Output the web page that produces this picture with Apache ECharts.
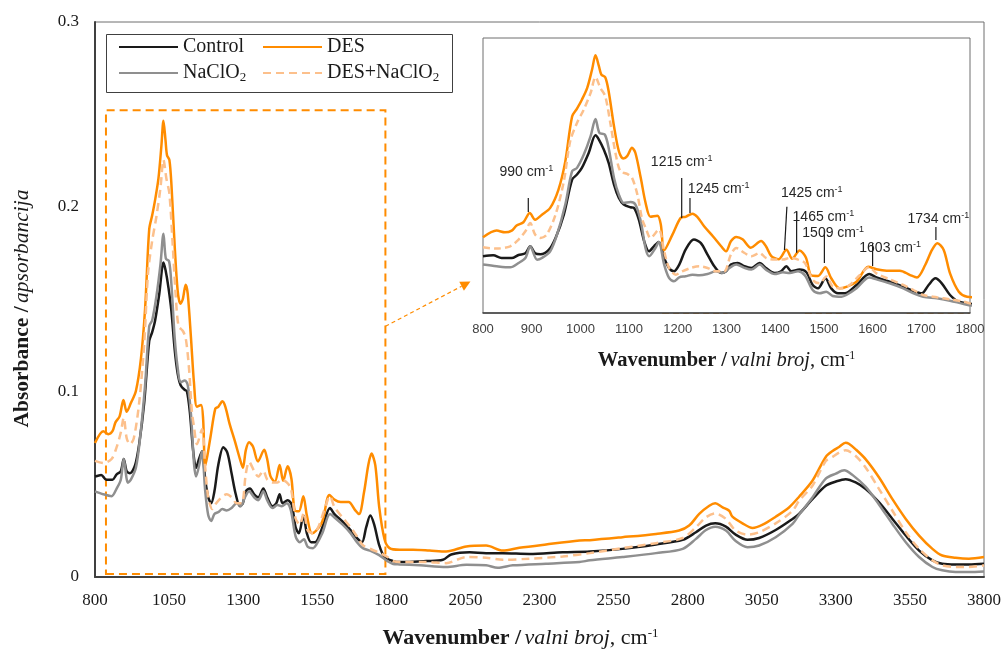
<!DOCTYPE html>
<html><head><meta charset="utf-8">
<script src="https://cdn.jsdelivr.net/npm/echarts@6/dist/echarts.min.js"></script>
<style>html,body{margin:0;padding:0;background:#fff}#c{width:1004px;height:654px}</style>
</head><body><div id="c"></div>
<script>
// ---- data: [wavenumber (cm-1), absorbance] ----
const control = [[800,0.0543],[821,0.0552],[838,0.0526],[859,0.0526],[873,0.0555],[887,0.0571],[897,0.0638],[907,0.0571],[918,0.0561],[935,0.0603],[949,0.0718],[966,0.0941],[983,0.1276],[993,0.1324],[1003,0.1388],[1017,0.1531],[1031,0.1700],[1038,0.1659],[1048,0.1563],[1058,0.1435],[1069,0.1228],[1079,0.1100],[1089,0.1037],[1103,0.1011],[1110,0.1005],[1120,0.0893],[1131,0.0686],[1141,0.0590],[1151,0.0638],[1161,0.0680],[1172,0.0527],[1182,0.0431],[1192,0.0399],[1203,0.0463],[1216,0.0606],[1233,0.0702],[1247,0.0670],[1261,0.0559],[1275,0.0447],[1289,0.0383],[1299,0.0399],[1309,0.0463],[1323,0.0479],[1337,0.0447],[1351,0.0431],[1368,0.0479],[1381,0.0431],[1399,0.0383],[1412,0.0399],[1423,0.0447],[1433,0.0399],[1450,0.0415],[1464,0.0390],[1477,0.0268],[1488,0.0236],[1503,0.0332],[1515,0.0236],[1529,0.0188],[1543,0.0188],[1567,0.0268],[1593,0.0373],[1608,0.0340],[1635,0.0300],[1663,0.0252],[1684,0.0210],[1701,0.0188],[1715,0.0268],[1729,0.0332],[1742,0.0284],[1759,0.0172],[1777,0.0108],[1806,0.0086],[1828,0.0081],[1851,0.0081],[1918,0.0086],[1974,0.0093],[2002,0.0122],[2064,0.0134],[2120,0.0129],[2176,0.0129],[2266,0.0125],[2378,0.0134],[2470,0.0138],[2580,0.0152],[2693,0.0176],[2783,0.0201],[2828,0.0242],[2862,0.0278],[2893,0.0290],[2929,0.0272],[2962,0.0229],[3002,0.0201],[3041,0.0211],[3097,0.0254],[3154,0.0314],[3176,0.0341],[3221,0.0421],[3266,0.0493],[3300,0.0516],[3333,0.0529],[3367,0.0511],[3401,0.0475],[3446,0.0403],[3491,0.0314],[3536,0.0224],[3581,0.0143],[3626,0.0090],[3659,0.0072],[3704,0.0068],[3749,0.0068],[3800,0.0072]];
const naclo2 = [[800,0.0463],[828,0.0447],[856,0.0437],[873,0.0478],[887,0.0526],[897,0.0638],[911,0.0510],[921,0.0526],[938,0.0590],[952,0.0750],[969,0.1037],[983,0.1356],[993,0.1388],[1007,0.1515],[1021,0.1691],[1031,0.1856],[1039,0.1722],[1050,0.1707],[1058,0.1579],[1069,0.1292],[1079,0.1132],[1089,0.1053],[1103,0.1062],[1113,0.1037],[1124,0.0877],[1134,0.0614],[1141,0.0543],[1154,0.0622],[1161,0.0680],[1172,0.0463],[1182,0.0335],[1192,0.0303],[1203,0.0341],[1216,0.0351],[1230,0.0367],[1244,0.0360],[1261,0.0373],[1278,0.0399],[1292,0.0383],[1306,0.0431],[1320,0.0463],[1337,0.0431],[1351,0.0415],[1368,0.0463],[1381,0.0415],[1399,0.0373],[1416,0.0389],[1430,0.0383],[1447,0.0399],[1461,0.0360],[1477,0.0220],[1491,0.0188],[1505,0.0204],[1518,0.0163],[1536,0.0156],[1546,0.0172],[1567,0.0236],[1593,0.0340],[1608,0.0322],[1635,0.0284],[1663,0.0236],[1684,0.0188],[1704,0.0156],[1732,0.0140],[1759,0.0118],[1787,0.0086],[1806,0.0070],[1828,0.0068],[1896,0.0063],[1985,0.0054],[2053,0.0066],[2120,0.0063],[2159,0.0050],[2210,0.0063],[2322,0.0072],[2435,0.0081],[2470,0.0090],[2580,0.0108],[2693,0.0129],[2783,0.0152],[2828,0.0206],[2862,0.0254],[2893,0.0272],[2929,0.0251],[2962,0.0194],[3002,0.0161],[3041,0.0170],[3097,0.0215],[3154,0.0287],[3176,0.0337],[3221,0.0430],[3266,0.0532],[3300,0.0559],[3328,0.0577],[3356,0.0552],[3401,0.0487],[3446,0.0391],[3491,0.0287],[3536,0.0188],[3581,0.0108],[3626,0.0054],[3659,0.0036],[3704,0.0027],[3749,0.0027],[3800,0.0030]];
const des = [[800,0.0724],[828,0.0788],[845,0.0772],[859,0.0788],[869,0.0836],[883,0.0868],[896,0.0957],[907,0.0893],[921,0.0940],[938,0.1005],[955,0.1180],[969,0.1450],[983,0.1880],[993,0.1955],[1003,0.2040],[1014,0.2153],[1024,0.2329],[1031,0.2466],[1038,0.2360],[1043,0.2280],[1051,0.2255],[1058,0.2120],[1069,0.1786],[1079,0.1547],[1088,0.1477],[1096,0.1500],[1106,0.1580],[1113,0.1530],[1124,0.1290],[1134,0.1050],[1144,0.0920],[1158,0.0930],[1165,0.0850],[1172,0.0600],[1189,0.0750],[1206,0.0910],[1216,0.0920],[1230,0.0950],[1240,0.0920],[1254,0.0829],[1272,0.0734],[1289,0.0638],[1299,0.0590],[1309,0.0686],[1320,0.0728],[1333,0.0705],[1350,0.0625],[1371,0.0688],[1381,0.0638],[1392,0.0545],[1407,0.0515],[1423,0.0605],[1435,0.0520],[1450,0.0598],[1463,0.0530],[1474,0.0360],[1488,0.0355],[1503,0.0437],[1515,0.0332],[1532,0.0236],[1546,0.0250],[1567,0.0300],[1591,0.0443],[1608,0.0418],[1629,0.0405],[1656,0.0405],[1677,0.0363],[1691,0.0340],[1708,0.0459],[1722,0.0603],[1733,0.0667],[1746,0.0603],[1759,0.0379],[1777,0.0204],[1794,0.0156],[1828,0.0147],[1873,0.0147],[1929,0.0143],[1985,0.0138],[2053,0.0165],[2120,0.0170],[2176,0.0143],[2232,0.0158],[2322,0.0176],[2435,0.0197],[2470,0.0199],[2580,0.0215],[2693,0.0233],[2771,0.0251],[2805,0.0278],[2839,0.0341],[2873,0.0385],[2893,0.0398],[2918,0.0376],[2940,0.0358],[2951,0.0326],[2985,0.0290],[3019,0.0265],[3053,0.0283],[3097,0.0326],[3142,0.0376],[3176,0.0434],[3221,0.0520],[3266,0.0649],[3289,0.0681],[3311,0.0703],[3333,0.0726],[3344,0.0720],[3367,0.0690],[3401,0.0636],[3446,0.0538],[3491,0.0421],[3536,0.0314],[3581,0.0224],[3626,0.0152],[3659,0.0116],[3704,0.0104],[3749,0.0099],[3800,0.0108]];
const desNaclo2 = [[800,0.0628],[828,0.0616],[856,0.0638],[873,0.0702],[887,0.0781],[897,0.0861],[907,0.0750],[918,0.0718],[931,0.0750],[949,0.0941],[966,0.1260],[979,0.1643],[993,0.1818],[1007,0.1946],[1021,0.2105],[1031,0.2255],[1041,0.2153],[1051,0.2073],[1062,0.1802],[1072,0.1531],[1082,0.1356],[1096,0.1331],[1106,0.1292],[1117,0.1132],[1127,0.0893],[1134,0.0814],[1144,0.0718],[1161,0.0798],[1172,0.0590],[1182,0.0431],[1196,0.0367],[1209,0.0399],[1227,0.0431],[1244,0.0447],[1261,0.0431],[1278,0.0399],[1295,0.0399],[1309,0.0559],[1320,0.0622],[1337,0.0574],[1351,0.0543],[1368,0.0574],[1381,0.0527],[1399,0.0511],[1416,0.0511],[1430,0.0527],[1447,0.0511],[1461,0.0479],[1477,0.0316],[1491,0.0284],[1505,0.0348],[1518,0.0252],[1536,0.0236],[1553,0.0268],[1574,0.0363],[1593,0.0437],[1608,0.0379],[1635,0.0322],[1663,0.0268],[1684,0.0220],[1704,0.0172],[1732,0.0150],[1759,0.0131],[1787,0.0108],[1806,0.0086],[1828,0.0081],[1918,0.0081],[1985,0.0075],[2053,0.0108],[2120,0.0104],[2176,0.0093],[2266,0.0099],[2378,0.0111],[2470,0.0129],[2580,0.0156],[2693,0.0183],[2783,0.0211],[2828,0.0269],[2862,0.0323],[2893,0.0344],[2929,0.0314],[2962,0.0251],[3002,0.0229],[3041,0.0242],[3097,0.0290],[3154,0.0358],[3176,0.0412],[3221,0.0493],[3266,0.0627],[3289,0.0649],[3311,0.0672],[3333,0.0685],[3367,0.0654],[3401,0.0591],[3446,0.0475],[3491,0.0358],[3536,0.0242],[3581,0.0152],[3626,0.0090],[3659,0.0063],[3704,0.0054],[3749,0.0054],[3800,0.0063]];

const seriesNames = ['Control', 'NaClO2', 'DES', 'DES+NaClO2'];
const mainXTicks = [800, 1050, 1300, 1550, 1800, 2050, 2300, 2550, 2800, 3050, 3300, 3550, 3800];
const insetXTicks = [800, 900, 1000, 1100, 1200, 1300, 1400, 1500, 1600, 1700, 1800];
const yTicks = [0, 0.1, 0.2, 0.3];
// highlighted regions
const mainZoomBox = [[837, 0.0016], [1780, 0.2523]];
const insetBoxes = [[[1170, 0], [1300, 0.0979]], [[1463, 0], [1545, 0.0481]], [[1672, 0], [1797, 0.0724]]];
// peak annotations: label, label centre [wn, abs], leader line [[wn, abs],[wn, abs]]
const peakLabels = [
  { t: '990', at: [889, 0.1344], line: [[893, 0.1100], [893, 0.0967]] },
  { t: '1215', at: [1208, 0.1445], line: [[1208, 0.1292], [1208, 0.0909]] },
  { t: '1245', at: [1284, 0.1187], line: [[1225, 0.1100], [1225, 0.0957]] },
  { t: '1425', at: [1475, 0.1144], line: [[1424, 0.1017], [1419, 0.0603]] },
  { t: '1465', at: [1499, 0.0914], line: [[1444, 0.0969], [1444, 0.0577]] },
  { t: '1509', at: [1519, 0.0761], line: [[1501, 0.0794], [1501, 0.0478]] },
  { t: '1603', at: [1636, 0.0622], line: [[1600, 0.0667], [1600, 0.0450]] },
  { t: '1734', at: [1735, 0.0900], line: [[1730, 0.0823], [1730, 0.0699]] }
];
const arrowFromTo = [[1780, 0.1355], [2067, 0.1597]];

const colors = ['#1a1a1a', '#8f8f8f', '#ff8c00', '#fcc08c'];
const dataSets = [control, naclo2, des, desNaclo2];
const X0 = 800;
const serif = 'Liberation Serif';
const sans = 'Liberation Sans';

const series = [];
dataSets.forEach((d, i) => {
  const ls = { color: colors[i], width: 2.5, type: i === 3 ? [8, 5] : 'solid' };
  const s = {
    name: seriesNames[i], type: 'line', xAxisIndex: 0, yAxisIndex: 0,
    data: d.map(p => [p[0] - X0, p[1]]), showSymbol: false, symbol: 'none',
    smooth: 0.3, lineStyle: ls, itemStyle: { color: colors[i] }, z: 3 + i
  };
  if (i === 2) {
    s.markArea = {
      silent: true,
      itemStyle: { color: 'rgba(0,0,0,0)', borderColor: '#ff8c00', borderWidth: 2, borderType: [8, 5] },
      data: [[{ coord: [mainZoomBox[0][0] - X0, mainZoomBox[0][1]] }, { coord: [mainZoomBox[1][0] - X0, mainZoomBox[1][1]] }]]
    };
  }
  series.push(s);
});
dataSets.forEach((d, i) => {
  const s = {
    name: seriesNames[i], type: 'line', xAxisIndex: 1, yAxisIndex: 1,
    data: d.filter(p => p[0] <= 1830), showSymbol: false, symbol: 'none', clip: true,
    smooth: 0.3, lineStyle: { color: colors[i], width: 2.5, type: i === 3 ? [7, 4] : 'solid' },
    itemStyle: { color: colors[i] }, z: 13 + i
  };
  if (i === 2) {
    s.markArea = {
      silent: true,
      itemStyle: { color: 'rgba(0,0,0,0)', borderColor: '#ff8c00', borderWidth: 2, borderType: [6, 4] },
      data: insetBoxes.map(b => [{ coord: b[0] }, { coord: b[1] }])
    };
  }
  series.push(s);
});

function titleRich(fs) {
  return {
    b: { fontFamily: serif, fontSize: fs, fontWeight: 'bold', color: '#1a1a1a' },
    i: { fontFamily: serif, fontSize: fs, fontStyle: 'italic', color: '#1a1a1a' },
    n: { fontFamily: serif, fontSize: fs, color: '#1a1a1a' },
    sup: { fontFamily: serif, fontSize: Math.round(fs * 0.6), lineHeight: Math.round(fs * 0.5), verticalAlign: 'top', color: '#1a1a1a' }
  };
}

const legendText = {
  fontFamily: serif, fontSize: 20, color: '#1a1a1a', lineHeight: 22,
  rich: { sub: { fontFamily: serif, fontSize: 13, lineHeight: 12, verticalAlign: 'bottom', color: '#1a1a1a' } }
};
const legendFmt = n => n.replace('ClO2', 'ClO{sub|2}');
const legendCommon = {
  orient: 'vertical', top: 36, padding: 0, itemWidth: 59, itemHeight: 14, itemGap: 4,
  textStyle: legendText, formatter: legendFmt, selectedMode: false,
  itemStyle: { opacity: 0, borderWidth: 0 }
};

const chart = echarts.init(document.getElementById('c'), null, { renderer: 'canvas' });
chart.setOption({
  animation: false,
  backgroundColor: '#fff',
  legend: [
    Object.assign({ data: ['Control', 'NaClO2'], left: 118 }, legendCommon),
    Object.assign({ data: ['DES', 'DES+NaClO2'], left: 262 }, legendCommon)
  ],
  grid: [
    { left: 95, right: 19, top: 22, bottom: 74, show: true, borderColor: '#6e6e6e', borderWidth: 1, backgroundColor: 'rgba(0,0,0,0)' },
    { left: 483, right: 34, top: 38, bottom: 341, show: true, borderColor: '#6e6e6e', borderWidth: 1, backgroundColor: '#fff', z: 10 }
  ],
  xAxis: [
    {
      type: 'value', gridIndex: 0, min: 0, max: 3000, interval: 250,
      axisLine: { lineStyle: { color: '#404040', width: 2 } }, axisTick: { show: false }, splitLine: { show: false },
      axisLabel: { fontFamily: serif, fontSize: 17, color: '#1a1a1a', margin: 15, formatter: v => String(v + X0) },
      name: '{b|Wavenumber /} {i|valni broj}{n|, cm}{sup|-1}', nameLocation: 'middle', nameGap: 50,
      nameTextStyle: { rich: titleRich(22), padding: [0, 38, 0, 0] }
    },
    {
      type: 'value', gridIndex: 1, min: 800, max: 1800, interval: 100, z: 10,
      axisLine: { lineStyle: { color: '#404040', width: 1.5 } }, axisTick: { show: false }, splitLine: { show: false },
      axisLabel: { fontFamily: sans, fontSize: 13, color: '#404040', margin: 10, formatter: v => String(v) },
      name: '{b|Wavenumber /} {i|valni broj}{n|, cm}{sup|-1}', nameLocation: 'middle', nameGap: 37,
      nameTextStyle: { rich: titleRich(20.5) }
    }
  ],
  yAxis: [
    {
      type: 'value', gridIndex: 0, min: 0, max: 0.3, interval: 0.1,
      axisLine: { show: true, lineStyle: { color: '#404040', width: 2 } }, axisTick: { show: false }, splitLine: { show: false },
      axisLabel: { fontFamily: serif, fontSize: 17, color: '#1a1a1a', margin: 16, formatter: v => (Math.round(v * 10) / 10).toString() },
      name: '{b|Absorbance /} {i|apsorbancija}', nameLocation: 'middle', nameGap: 62,
      nameTextStyle: { rich: titleRich(21.5), padding: [0, 18, 0, 0] }
    },
    {
      type: 'value', gridIndex: 1, min: 0, max: 0.263, show: true,
      axisLine: { show: false }, axisTick: { show: false }, axisLabel: { show: false }, splitLine: { show: false }
    }
  ],
  series: series
});

// decorations placed through the axes' own scales
const toMain = p => chart.convertToPixel({ xAxisIndex: 0, yAxisIndex: 0 }, [p[0] - X0, p[1]]);
const toInset = p => chart.convertToPixel({ xAxisIndex: 1, yAxisIndex: 1 }, p);
const graphics = [];
// legend frame
graphics.push({ type: 'rect', shape: { x: 106.5, y: 34.5, width: 346, height: 58 }, style: { fill: 'rgba(0,0,0,0)', stroke: '#404040', lineWidth: 1 }, z: 50 });
// arrow from main box to inset
const a0 = toMain(arrowFromTo[0]), a1 = toMain(arrowFromTo[1]);
const dx = a1[0] - a0[0], dy = a1[1] - a0[1], L = Math.hypot(dx, dy), ux = dx / L, uy = dy / L;
const hb = [a1[0] - ux * 10, a1[1] - uy * 10];
graphics.push({ type: 'line', shape: { x1: a0[0], y1: a0[1], x2: hb[0], y2: hb[1] }, style: { stroke: '#ff8c00', lineWidth: 1.2, lineDash: [4, 3] }, z: 50 });
graphics.push({ type: 'polygon', shape: { points: [a1, [hb[0] - uy * 5, hb[1] + ux * 5], [hb[0] + uy * 5, hb[1] - ux * 5]] }, style: { fill: '#ff8c00' }, z: 50 });
// peak labels
peakLabels.forEach(pk => {
  const p0 = toInset(pk.line[0]), p1 = toInset(pk.line[1]);
  graphics.push({ type: 'line', shape: { x1: p0[0], y1: p0[1], x2: p1[0], y2: p1[1] }, style: { stroke: '#1a1a1a', lineWidth: 1.2 }, z: 60 });
  const c = toInset(pk.at);
  graphics.push({
    type: 'text', x: c[0], y: c[1], z: 61,
    style: {
      text: pk.t + ' cm{s|-1}', fill: '#262626', font: '14px ' + sans, align: 'center', verticalAlign: 'middle',
      lineHeight: 16,
      rich: { s: { fontFamily: sans, fontSize: 9, lineHeight: 9, verticalAlign: 'top', fill: '#262626' } }
    }
  });
});
chart.setOption({ graphic: graphics });
</script>
</body></html>
